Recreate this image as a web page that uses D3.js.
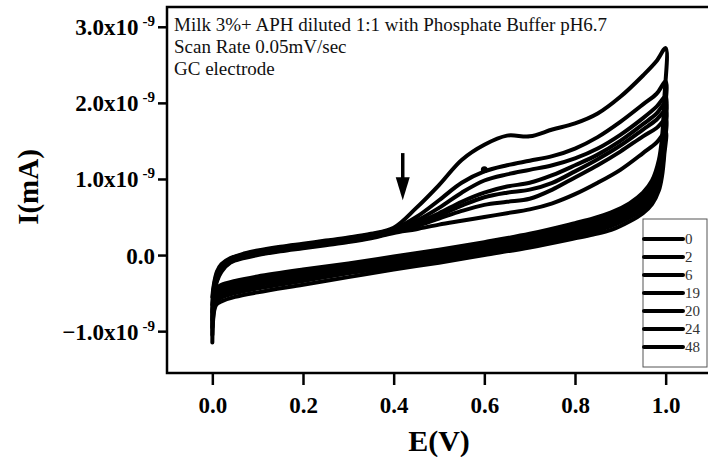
<!DOCTYPE html>
<html>
<head>
<meta charset="utf-8">
<script src="https://cdn.jsdelivr.net/npm/d3@7"></script>
<style>
  body { margin: 0; background: #fff; }
  svg { display: block; }
</style>
</head>
<body>
<div id="chart"></div>
<script>
// legend labels (sample times)
const seriesNames = ["0", "2", "6", "19", "20", "24", "48"];

// potential grid of the forward (anodic) sweep, V
const eForward = [0, 0.003, 0.01, 0.02, 0.04, 0.07, 0.1, 0.15, 0.2, 0.25, 0.3, 0.35, 0.4, 0.45,
                  0.5, 0.55, 0.6, 0.65, 0.7, 0.75, 0.8, 0.85, 0.9, 0.95, 0.98, 1.0];
// potential grid of the reverse sweep, V
const eReverse = [1.0, 0.997, 0.992, 0.985, 0.97, 0.95, 0.92, 0.88, 0.84, 0.8, 0.7, 0.6, 0.5,
                  0.4, 0.3, 0.2, 0.1, 0.05, 0.02, 0.008, 0.0];

// current in units of 1e-9, one row per curve
const iForward = [
  [-0.55, -0.40, -0.22, -0.12, -0.04, 0.02, 0.06, 0.11, 0.15, 0.19, 0.23, 0.28, 0.36, 0.62, 0.92, 1.25, 1.45, 1.57, 1.56, 1.65, 1.73, 1.86, 2.08, 2.36, 2.55, 2.72],
  [-0.65, -0.43, -0.25, -0.14, -0.05, 0.01, 0.05, 0.10, 0.14, 0.18, 0.22, 0.27, 0.34, 0.50, 0.72, 0.95, 1.10, 1.18, 1.24, 1.30, 1.40, 1.55, 1.75, 1.98, 2.12, 2.28],
  [-0.75, -0.46, -0.27, -0.16, -0.06, 0.00, 0.04, 0.09, 0.13, 0.17, 0.21, 0.26, 0.33, 0.45, 0.62, 0.82, 0.98, 1.06, 1.12, 1.18, 1.27, 1.40, 1.58, 1.80, 1.95, 2.08],
  [-0.85, -0.48, -0.29, -0.17, -0.07, -0.01, 0.03, 0.08, 0.12, 0.16, 0.20, 0.25, 0.32, 0.42, 0.55, 0.70, 0.82, 0.90, 0.95, 1.05, 1.18, 1.32, 1.50, 1.72, 1.86, 2.00],
  [-0.95, -0.50, -0.31, -0.19, -0.08, -0.02, 0.02, 0.07, 0.11, 0.15, 0.19, 0.24, 0.31, 0.40, 0.52, 0.65, 0.76, 0.82, 0.86, 0.95, 1.10, 1.26, 1.44, 1.65, 1.78, 1.90],
  [-1.05, -0.52, -0.33, -0.20, -0.09, -0.03, 0.01, 0.06, 0.10, 0.14, 0.18, 0.23, 0.30, 0.38, 0.48, 0.58, 0.66, 0.70, 0.74, 0.86, 1.02, 1.18, 1.36, 1.56, 1.67, 1.78],
  [-1.15, -0.55, -0.35, -0.22, -0.10, -0.04, 0.00, 0.05, 0.09, 0.13, 0.17, 0.22, 0.29, 0.34, 0.40, 0.45, 0.50, 0.55, 0.60, 0.68, 0.80, 0.95, 1.12, 1.34, 1.48, 1.62]
];
const iReverse = [
  [2.72, 2.05, 1.55, 1.25, 0.98, 0.82, 0.68, 0.56, 0.48, 0.42, 0.28, 0.17, 0.07, -0.02, -0.11, -0.19, -0.28, -0.34, -0.39, -0.44, -0.55],
  [2.28, 1.80, 1.42, 1.17, 0.93, 0.77, 0.64, 0.52, 0.45, 0.39, 0.25, 0.14, 0.04, -0.05, -0.14, -0.22, -0.31, -0.37, -0.42, -0.48, -0.65],
  [2.08, 1.66, 1.33, 1.10, 0.88, 0.73, 0.61, 0.49, 0.42, 0.36, 0.22, 0.12, 0.02, -0.07, -0.16, -0.25, -0.34, -0.40, -0.45, -0.51, -0.75],
  [2.00, 1.58, 1.26, 1.04, 0.83, 0.69, 0.57, 0.46, 0.39, 0.33, 0.20, 0.10, 0.00, -0.09, -0.18, -0.27, -0.36, -0.42, -0.48, -0.54, -0.85],
  [1.90, 1.50, 1.19, 0.98, 0.78, 0.64, 0.53, 0.42, 0.35, 0.30, 0.17, 0.07, -0.03, -0.12, -0.21, -0.30, -0.40, -0.46, -0.52, -0.58, -0.95],
  [1.78, 1.42, 1.12, 0.92, 0.73, 0.60, 0.49, 0.38, 0.31, 0.26, 0.14, 0.04, -0.06, -0.15, -0.24, -0.34, -0.44, -0.50, -0.56, -0.62, -1.05],
  [1.62, 1.32, 1.04, 0.85, 0.67, 0.55, 0.44, 0.33, 0.27, 0.22, 0.10, 0.00, -0.10, -0.19, -0.29, -0.39, -0.49, -0.55, -0.61, -0.66, -1.15]
];
// small glitch blob on one of the curves
const glitch = [[0.6, 1.12]];

const xTicks = [0.0, 0.2, 0.4, 0.6, 0.8, 1.0];
const yTicks = [-1, 0, 1, 2, 3];
const noteLines = ["Milk 3%+ APH diluted 1:1 with Phosphate Buffer pH6.7",
                   "Scan Rate 0.05mV/sec",
                   "GC electrode"];

const svgAttr = { width: 708, height: 457 };
const plot = { left: 167, right: 711, top: 7, bottom: 373 };
const serif = "'Liberation Serif', 'Times New Roman', serif";

const svg = d3.select("#chart")
              .append("svg")
              .attr("width", svgAttr.width)
              .attr("height", svgAttr.height);

const x = d3.scaleLinear().domain([-0.1, 1.1]).range([plot.left, plot.right]);
const y = d3.scaleLinear().domain([-1.55, 3.26]).range([plot.bottom, plot.top]);

// curves
const line = d3.line()
               .x(d => x(d[0]))
               .y(d => y(d[1]))
               .curve(d3.curveCatmullRom.alpha(0.5));

seriesNames.forEach((name, k) => {
    const pts = eForward.map((e, i) => [e, iForward[k][i]])
        .concat(eReverse.slice(1).map((e, i) => [e, iReverse[k][i + 1]]));
    svg.append("path")
       .attr("d", line(pts))
       .attr("fill", "none")
       .attr("stroke", "#000")
       .attr("stroke-width", 4)
       .attr("stroke-linejoin", "round")
       .attr("stroke-linecap", "round");
});

svg.selectAll(".glitch")
   .data(glitch)
   .enter().append("circle")
   .attr("cx", d => x(d[0]))
   .attr("cy", d => y(d[1]))
   .attr("r", 3.5)
   .attr("fill", "#000");

// frame
svg.append("rect")
   .attr("x", plot.left)
   .attr("y", plot.top)
   .attr("width", plot.right - plot.left)
   .attr("height", plot.bottom - plot.top)
   .attr("fill", "none")
   .attr("stroke", "#000")
   .attr("stroke-width", 2.5);

// x axis
const gx = svg.append("g")
   .attr("transform", `translate(0,${plot.bottom})`)
   .call(d3.axisBottom(x).tickValues(xTicks).tickSize(12).tickSizeOuter(0)
           .tickFormat(d3.format(".1f")));
gx.select(".domain").remove();
gx.selectAll(".tick line").attr("stroke", "#000").attr("stroke-width", 2.5);
gx.selectAll(".tick text")
  .attr("y", 0).attr("dy", 0)
  .attr("transform", "translate(0,40)")
  .style("font-family", serif).style("font-size", "23px").style("font-weight", "bold")
  .attr("fill", "#000");

// y axis
const gy = svg.append("g")
   .attr("transform", `translate(${plot.left},0)`)
   .call(d3.axisLeft(y).tickValues(yTicks).tickSize(9).tickSizeOuter(0).tickFormat(""));
gy.select(".domain").remove();
gy.selectAll(".tick line").attr("stroke", "#000").attr("stroke-width", 2.5);
gy.selectAll(".tick").each(function(d) {
    const t = d3.select(this).append("text")
        .attr("x", -12)
        .attr("y", 8)
        .attr("text-anchor", "end")
        .style("font-family", serif).style("font-size", "23px").style("font-weight", "bold")
        .attr("fill", "#000");
    if (d === 0) {
        t.text("0.0");
    } else {
        t.append("tspan").text(d3.format(".1f")(d) + "x10");
        t.append("tspan").attr("dx", 4).attr("dy", -9).style("font-size", "15px").text("-9");
    }
});

// axis titles
svg.append("text")
   .attr("x", (x(0) + x(1)) / 2 + 0)
   .attr("y", 451)
   .attr("text-anchor", "middle")
   .style("font-family", serif).style("font-size", "30px").style("font-weight", "bold")
   .text("E(V)");

svg.append("text")
   .attr("transform", "translate(38,187) rotate(-90)")
   .attr("text-anchor", "middle")
   .style("font-family", serif).style("font-size", "29px").style("font-weight", "bold")
   .text("I(mA)");

// note text
noteLines.forEach((s, i) => {
    svg.append("text")
       .attr("x", 174)
       .attr("y", 31 + i * 22)
       .style("font-family", serif).style("font-size", "19px")
       .attr("fill", "#111")
       .text(s);
});

// arrow marking the oxidation onset
const arrowAt = { e: 0.42, top: 1.34, tip: 0.72 };
svg.append("line")
   .attr("x1", x(arrowAt.e)).attr("x2", x(arrowAt.e))
   .attr("y1", y(arrowAt.top)).attr("y2", y(arrowAt.tip) - 18)
   .attr("stroke", "#000").attr("stroke-width", 3.5);
svg.append("path")
   .attr("d", `M${x(arrowAt.e) - 7},${y(arrowAt.tip) - 23} L${x(arrowAt.e) + 7},${y(arrowAt.tip) - 23} L${x(arrowAt.e)},${y(arrowAt.tip)} Z`)
   .attr("fill", "#000");

// legend
const leg = svg.append("g").attr("transform", "translate(643,219)");
leg.append("rect")
   .attr("width", 64).attr("height", 148)
   .attr("fill", "#fff").attr("stroke", "#555").attr("stroke-width", 1);
seriesNames.forEach((name, i) => {
    const ly = 20 + i * 18;
    leg.append("line")
       .attr("x1", 1).attr("x2", 40).attr("y1", ly).attr("y2", ly)
       .attr("stroke", "#000").attr("stroke-width", 4).attr("stroke-linecap", "round");
    leg.append("text")
       .attr("x", 42).attr("y", ly + 5)
       .style("font-family", serif).style("font-size", "15px")
       .attr("fill", "#333")
       .text(name);
});
</script>
</body>
</html>
